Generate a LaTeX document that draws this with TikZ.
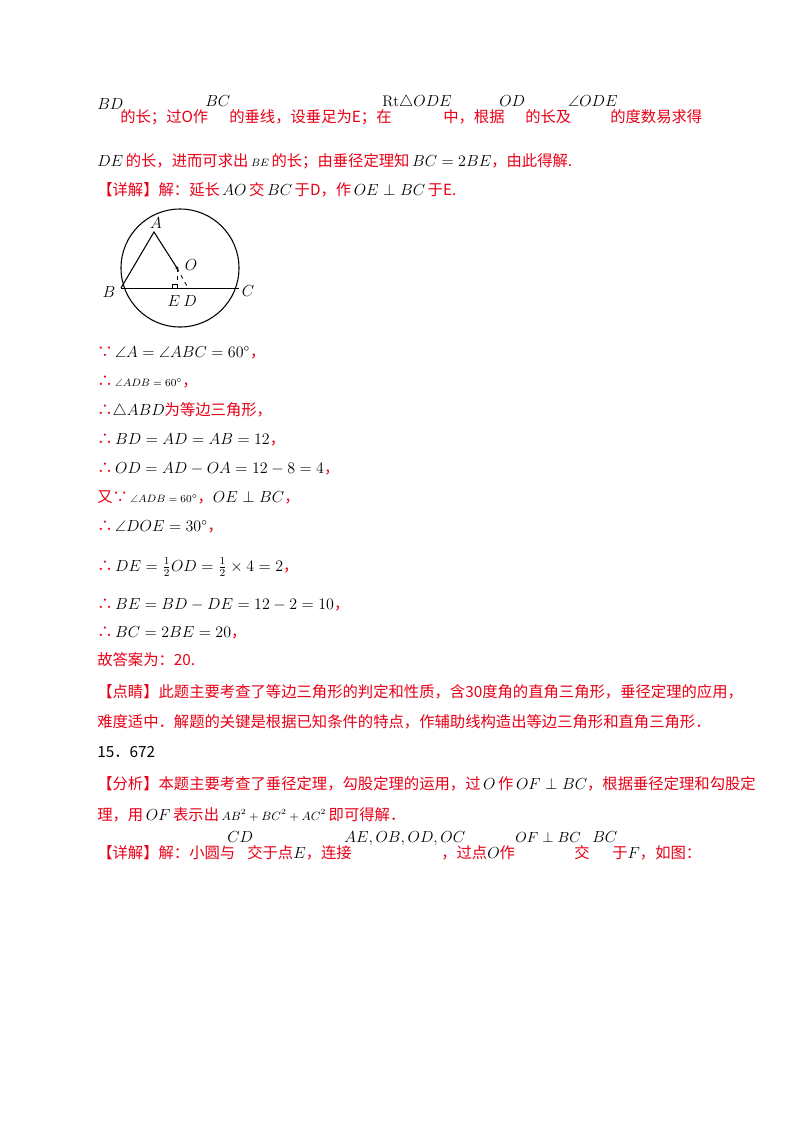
\documentclass[tikz,border=0pt]{standalone}
\usepackage{fontspec}
\usepackage{amsmath,amssymb}
\newfontfamily\cjk{Noto Sans CJK SC}
\definecolor{rd}{RGB}{232,0,24}
\newcommand{\mm}[1]{{\color{black}$#1$}}
\tikzset{t/.style={anchor=base west,inner sep=0pt,text=rd,font=\cjk\fontsize{11.5}{13}\selectfont},
 k/.style={t,text=black},
 lb/.style={inner sep=0pt,text=black,font=\large}}
\begin{document}
\begin{tikzpicture}[x=0.75pt,y=-0.75pt]
\useasboundingbox (0,0) rectangle (800,1132);
\fill[white] (0,0) rectangle (800,1132);
% line 1
\node[k] (m1) at (97,109) {$BD$};
\node[t] (l1a) at (120,122) {的长；过\textit{O}作};
\node[k] (m2) at (205,106) {$BC$};
\node[t] (l1b) at (229,122) {的垂线，设垂足为\textit{E}；在};
\node[k] (m3) at (382,106) {$\mathrm{Rt}\triangle ODE$};
\node[t] (l1c) at (443,122) {中，根据};
\node[k] (m4) at (499,106) {$OD$};
\node[t] (l1d) at (525,122) {的长及};
\node[k] (m5) at (568,106) {$\angle ODE$};
\node[t] (l1e) at (610,122) {的度数易求得};
% line 2
\node[t] (l2) at (97,166) {\mm{DE}\,的长，进而可求出\,{\color{black}\footnotesize$BE$}\,的长；由垂径定理知\,\mm{BC=2BE}，由此得解.};
% line 3
\node[t] (l3) at (97,195) {【详解】解：延长\,\mm{AO}\,交\,\mm{BC}\,于\textit{D}，作\,\mm{OE\perp BC}\,于\textit{E}.};
% figure
\coordinate (cen) at (180,268);
\draw[line width=0.8pt] (cen) circle[radius=59];
\coordinate (A) at (154,232);
\coordinate (B) at (121,288);
\coordinate (C) at (239,288);
\coordinate (O) at (177,268);
\coordinate (E) at (177,288);
\coordinate (D) at (188,288);
\draw[line width=0.8pt] (B) -- (A) -- (O);
\draw[line width=0.6pt] (B) -- (C);
\draw[dashed,line width=0.6pt] (O) -- (D);
\draw[dashed,line width=0.6pt] (O) -- (E);
\draw[line width=0.6pt] (172,288) -- (172,284) -- (177,284);
\fill (O) circle[radius=1.6];
\node[lb] (lA) at (156,223) {$A$};
\node[lb] (lO) at (191,265) {$O$};
\node[lb] (lB) at (109,292) {$B$};
\node[lb] (lC) at (248,291) {$C$};
\node[lb] (lE) at (174,301) {$E$};
\node[lb] (lD) at (190,301) {$D$};
% steps
\node[t] (s1) at (97,357) {∵\,\mm{\angle A=\angle ABC=60^\circ}，};
\node[t] (s2) at (97,386) {∴\,{\color{black}\footnotesize$\angle ADB=60^\circ$}，};
\node[t] (s3) at (97,415) {∴\mm{\triangle ABD}为等边三角形，};
\node[t] (s4) at (97,444) {∴\,\mm{BD=AD=AB=12}，};
\node[t] (s5) at (97,473) {∴\,\mm{OD=AD-OA=12-8=4}，};
\node[t] (s6) at (97,502) {又∵\,{\color{black}\footnotesize$\angle ADB=60^\circ$}，\mm{OE\perp BC}，};
\node[t] (s7) at (97,531) {∴\,\mm{\angle DOE=30^\circ}，};
\node[t] (s8) at (97,571) {∴\,\mm{DE=\tfrac{1}{2}OD=\tfrac{1}{2}\times4=2}，};
\node[t] (s9) at (97,609) {∴\,\mm{BE=BD-DE=12-2=10}，};
\node[t] (s10) at (97,637) {∴\,\mm{BC=2BE=20}，};
\node[t] (s11) at (97,665) {故答案为：20.};
\node[t] (s12) at (97,697) {【点睛】此题主要考查了等边三角形的判定和性质，含30度角的直角三角形，垂径定理的应用，};
\node[t] (s13) at (97,727) {难度适中．解题的关键是根据已知条件的特点，作辅助线构造出等边三角形和直角三角形．};
\node[k] (s14) at (97,757) {15．672};
\node[t] (s15) at (97,789) {【分析】本题主要考查了垂径定理，勾股定理的运用，过\,\mm{O}\,作\,{\color{black}$OF\perp BC$}，根据垂径定理和勾股定};
\node[t] (s16) at (97,820) {理，用\,\mm{OF}\,表示出\,{\color{black}\small$AB^2+BC^2+AC^2$}\,即可得解．};
% last line
\node[t] (l4a) at (97,858) {【详解】解：小圆与};
\node[k] (n1) at (227,842) {$CD$};
\node[t] (l4b) at (247,858) {交于点\mm{E}，连接};
\node[k] (n2) at (344,842) {$AE,OB,OD,OC$};
\node[t] (l4c) at (441,858) {，过点\mm{O}作};
\node[k,font=\fontsize{10.5}{12}\selectfont] (n3) at (515,842) {$OF\perp BC$};
\node[t] (l4d) at (574,858) {交};
\node[k] (n4) at (592,842) {$BC$};
\node[t] (l4e) at (612,858) {于\mm{F}，如图：};
\end{tikzpicture}
\end{document}
